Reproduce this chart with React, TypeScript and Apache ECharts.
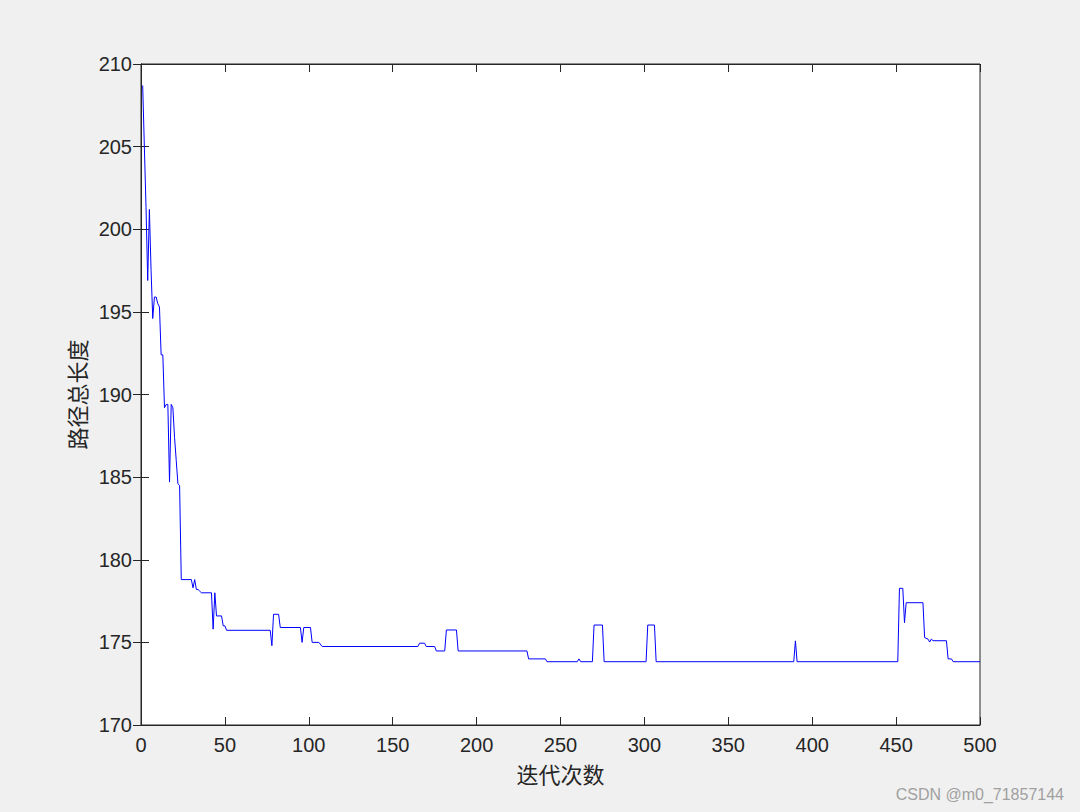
import React, { useEffect, useRef } from "react";
import * as echarts from "echarts";

// Breakpoints of the convergence curve (iteration, total path length)
const iterations: number[] = [
  1, 2, 3, 4, 5, 6, 7, 8, 9, 10, 11, 12, 13, 14, 15, 16, 17, 18, 19, 20, 21, 22, 23, 24,
  30, 31, 32, 33, 34, 35, 36, 42, 43, 44, 45, 48, 49, 50, 51,
  77, 78, 79, 82, 83, 95, 96, 97, 101, 102, 106, 108,
  165, 166, 169, 170, 175, 176, 181, 182, 188, 189,
  230, 231, 241, 242, 260, 261, 262, 269, 270, 275, 276,
  301, 302, 306, 307, 389, 390, 391,
  451, 452, 454, 455, 456, 466, 467, 469, 470, 471, 472, 480, 481, 483, 484, 500,
];
const lengths: number[] = [
  208.7, 205.0, 201.3, 196.9, 201.2, 197.5, 194.6, 195.9, 195.9, 195.5, 195.3, 192.4, 192.4, 189.2, 189.4, 189.4, 184.7, 189.4, 189.2, 187.4, 186.0, 184.6, 184.5, 178.8,
  178.8, 178.3, 178.8, 178.2, 178.2, 178.1, 178.0, 178.0, 175.8, 178.0, 176.6, 176.6, 176.0, 176.0, 175.73,
  175.73, 174.8, 176.7, 176.7, 175.9, 175.9, 175.0, 175.9, 175.9, 175.0, 175.0, 174.75,
  174.75, 174.95, 174.95, 174.75, 174.75, 174.48, 174.48, 175.75, 175.75, 174.48,
  174.48, 174.0, 174.0, 173.83, 173.83, 174.0, 173.83, 173.83, 176.05, 176.05, 173.83,
  173.83, 176.05, 176.05, 173.83, 173.83, 175.09, 173.83,
  173.83, 178.27, 178.27, 176.19, 177.4, 177.4, 175.29, 175.2, 175.02, 175.2, 175.1, 175.1, 174.0, 174.0, 173.83, 173.83,
];

const xTitle = "迭代次数";
const yTitle = "路径总长度";
const watermark = "CSDN @m0_71857144";

const AXIS_COLOR = "#262626";
const NUM_FONT = "'Liberation Sans', Arial, Helvetica, sans-serif";
const CJK_FONT = "'Noto Sans CJK SC', 'Noto Sans', sans-serif";

export default function App() {
  const ref = useRef<HTMLDivElement>(null);

  useEffect(() => {
    if (!ref.current) return;
    const chart = echarts.init(ref.current, undefined, { renderer: "svg" });
    const data = iterations.map((it, i) => [it, lengths[i]]);

    const axisCommon = {
      axisLine: { show: true, lineStyle: { color: AXIS_COLOR, width: 1 } },
      axisTick: { show: true, inside: true, length: 8, lineStyle: { color: AXIS_COLOR } },
      splitLine: { show: false },
    };

    chart.setOption({
      animation: false,
      backgroundColor: "#f0f0f0",
      grid: {
        left: 141,
        right: 100,
        top: 64,
        bottom: 87,
        show: true,
        backgroundColor: "#ffffff",
        borderColor: AXIS_COLOR,
        borderWidth: 1,
      },
      xAxis: [
        {
          type: "value",
          min: 0,
          max: 500,
          interval: 50,
          position: "bottom",
          ...axisCommon,
          axisLabel: { color: AXIS_COLOR, fontSize: 20, fontFamily: NUM_FONT, margin: 10 },
          name: xTitle,
          nameLocation: "middle",
          nameGap: 37,
          nameTextStyle: { color: AXIS_COLOR, fontSize: 22, fontFamily: CJK_FONT },
        },
        {
          type: "value",
          min: 0,
          max: 500,
          interval: 50,
          position: "top",
          ...axisCommon,
          axisLabel: { show: false },
        },
      ],
      yAxis: [
        {
          type: "value",
          min: 170,
          max: 210,
          interval: 5,
          position: "left",
          ...axisCommon,
          axisLabel: { color: AXIS_COLOR, fontSize: 20, fontFamily: NUM_FONT, margin: 9 },
          name: yTitle,
          nameLocation: "middle",
          nameGap: 54,
          nameRotate: 90,
          nameTextStyle: { color: AXIS_COLOR, fontSize: 22, fontFamily: CJK_FONT },
        },
        {
          type: "value",
          min: 170,
          max: 210,
          interval: 5,
          position: "right",
          ...axisCommon,
          axisLabel: { show: false },
        },
      ],
      series: [
        {
          type: "line",
          xAxisIndex: 0,
          yAxisIndex: 0,
          data,
          showSymbol: false,
          symbol: "none",
          smooth: false,
          lineStyle: { color: "#0000ff", width: 1 },
        },
      ],
      graphic: [
        {
          type: "text",
          right: 16,
          bottom: 10,
          style: {
            text: watermark,
            fill: "#a0a0a0",
            fontSize: 16,
            fontFamily: NUM_FONT,
          },
        },
      ],
    });

    return () => chart.dispose();
  }, []);

  return (
    <div
      ref={ref}
      style={{ position: "absolute", left: 0, top: 0, width: 1080, height: 812 }}
    />
  );
}
